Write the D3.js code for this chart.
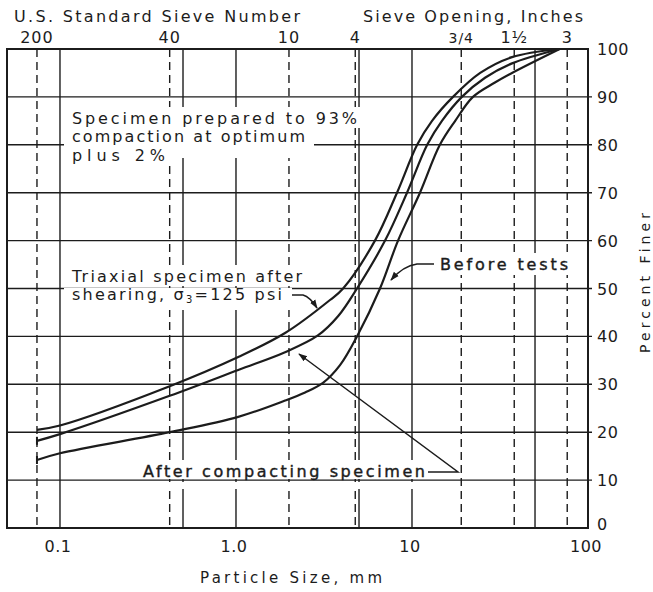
<!DOCTYPE html>
<html><head><meta charset="utf-8">
<script src="https://cdn.jsdelivr.net/npm/d3@7"></script>
<style>
html,body{margin:0;padding:0;background:#fff;}
svg text{font-family:"DejaVu Sans",sans-serif;fill:#1c1c1c;}
</style></head>
<body><svg id="c" width="653" height="592"></svg>
<script>
// ---- data ----
const percentTicks = [0,10,20,30,40,50,60,70,80,90,100];
const sizeTicks = [0.1, 1, 10, 100];
const sizeTickLabels = ["0.1","1.0","10","100"];
const solidGrid = [0.1, 0.5, 1, 5, 10, 50];
const sieveSizes = [0.074, 0.42, 2.0, 4.76, 19.05, 38.1, 76.2];
const sieveLabels = ["200","40","10","4","3/4","1½","3"];

const triaxialSize = [0.074, 0.1, 0.42, 1.03, 1.9, 3.42, 4.06, 6.16, 8.22, 10.7, 13.0, 17.1, 24.4, 37, 69];
const triaxialPct  = [20.5, 21.4, 29.6, 35.7, 40.7, 47.6, 50, 60, 70, 80, 85, 90, 95, 98.3, 100];
const compactSize  = [0.074, 0.1, 0.42, 1.03, 1.9, 2.92, 3.8, 4.87, 7.03, 9.37, 12.2, 14.8, 19.2, 26, 37, 69];
const compactPct   = [18.2, 19.6, 27.6, 33.0, 36.7, 40.2, 44.2, 50, 60, 70, 80, 85, 90, 94, 97, 100];
const beforeSize   = [0.074, 0.1, 0.42, 1.03, 1.9, 2.47, 3.12, 3.9, 4.87, 6.58, 8.33, 11.1, 14.4, 17.6, 22.2, 29.6, 37, 69];
const beforePct    = [14.2, 15.6, 20.0, 23.2, 26.6, 28.3, 30.3, 34, 40, 50, 60, 70, 80, 85, 90, 93, 95, 100];

// ---- layout ----
const svg = d3.select("#c");
const L = 7, R = 588, T = 49, B = 528;
const x = d3.scaleLog().domain([0.05, 100]).range([L, R]);
const y = d3.scaleLinear().domain([0, 100]).range([B, T]);
const ink = "#1c1c1c";

svg.append("rect").attr("width",653).attr("height",592).attr("fill","#fff");

const g = svg.append("g");
g.selectAll("line.h").data(percentTicks.filter(d=>d>0 && d<100)).join("line")
  .attr("x1", L).attr("x2", R+4).attr("y1", d=>y(d)).attr("y2", d=>y(d))
  .attr("stroke", ink).attr("stroke-width", 1.4);
g.selectAll("line.v").data(solidGrid).join("line")
  .attr("x1", d=>x(d)).attr("x2", d=>x(d)).attr("y1", T).attr("y2", B)
  .attr("stroke", ink).attr("stroke-width", 1.4);
g.selectAll("line.s").data(sieveSizes).join("line")
  .attr("x1", d=>x(d)).attr("x2", d=>x(d)).attr("y1", T).attr("y2", B)
  .attr("stroke", ink).attr("stroke-width", 1.4).attr("stroke-dasharray","8,5");

// white masks behind annotations
const masks = [[64,107,310,21],[64,128,250,30],[64,148,108,18],
               [64,265,245,21],[64,288,228,22],
               [434,253,140,22],[136,460,296,19],[136,482,296,7]];
svg.append("g").selectAll("rect").data(masks).join("rect")
  .attr("x",d=>d[0]).attr("y",d=>d[1]).attr("width",d=>d[2]).attr("height",d=>d[3]).attr("fill","#fff");

svg.append("rect").attr("x",L).attr("y",T).attr("width",R-L).attr("height",B-T)
  .attr("fill","none").attr("stroke",ink).attr("stroke-width",2);

// curves
const line = d3.line().x(d=>x(d[0])).y(d=>y(d[1])).curve(d3.curveCatmullRom.alpha(0.5));
const series = [
  d3.zip(triaxialSize, triaxialPct),
  d3.zip(compactSize, compactPct),
  d3.zip(beforeSize, beforePct)
];
svg.append("g").selectAll("path").data(series).join("path")
  .attr("d", line).attr("fill","none").attr("stroke",ink).attr("stroke-width",2.2);
svg.append("g").selectAll("line").data(series.slice(1)).join("line")
  .attr("x1", d=>x(d[0][0])).attr("x2", d=>x(d[0][0]))
  .attr("y1", d=>y(d[0][1])-4).attr("y2", d=>y(d[0][1])+4)
  .attr("stroke",ink).attr("stroke-width",2);

const defs = svg.append("defs");
defs.append("marker").attr("id","arr").attr("viewBox","0 0 10 10").attr("refX",9).attr("refY",5)
  .attr("markerWidth",9).attr("markerHeight",9).attr("orient","auto-start-reverse")
  .attr("markerUnits","userSpaceOnUse")
  .append("path").attr("d","M0,1.5 L10,5 L0,8.5 Z").attr("fill",ink);

const leaders = [
  "M292,295 L303,295 Q310,297 317,308",
  "M434,264 L417,264 Q403,266 391,280",
  "M428,472 L458,472 L299,354"
];
svg.append("g").selectAll("path").data(leaders).join("path")
  .attr("d", d=>d).attr("fill","none").attr("stroke",ink).attr("stroke-width",1.5)
  .attr("marker-end","url(#arr)");

// ---- text ----
function txt(s, xx, yy, size, len, anchor){
  const t = svg.append("text").attr("x",xx).attr("y",yy).attr("font-size",size)
    .attr("text-anchor",anchor||"start").text(s);
  if(len){ t.attr("textLength",len).attr("lengthAdjust","spacing"); }
  return t;
}
txt("U.S. Standard Sieve Number", 14, 22, 16, 286);
txt("Sieve Opening, Inches", 363, 22, 16, 220);
svg.append("g").selectAll("text").data(sieveSizes).join("text")
  .attr("x", d=>x(d)).attr("y", 43).attr("text-anchor","middle")
  .attr("font-size", (d,i)=> (sieveLabels[i]==="3/4") ? 14 : 16)
  .attr("letter-spacing",1)
  .text((d,i)=>sieveLabels[i]);

svg.append("g").selectAll("text").data(percentTicks).join("text")
  .attr("x", 597).attr("y", d=>y(d)+6 - (d===0?4:0)).attr("font-size",16).attr("letter-spacing",0.5)
  .text(d=>d);
svg.append("g").selectAll("text").data(sizeTicks).join("text")
  .attr("x", (d,i)=>x(d)-2).attr("y", 552).attr("text-anchor","middle")
  .attr("font-size",16).attr("letter-spacing",0.5)
  .text((d,i)=>sizeTickLabels[i]);

txt("Particle Size, mm", 200, 583, 15, 182);
svg.append("text").attr("transform","translate(650,283) rotate(-90)")
  .attr("text-anchor","middle").attr("font-size",14).attr("textLength",140)
  .attr("lengthAdjust","spacing").text("Percent Finer");

txt("Specimen prepared to 93%", 72, 124, 16, 285);
txt("compaction at optimum", 72, 142, 16, 233);
txt("plus 2%", 72, 161, 16, 93);
txt("Triaxial specimen after", 72, 282, 16, 230);
const sh = svg.append("text").attr("x",72).attr("y",300).attr("font-size",16).attr("letter-spacing",2.2);
sh.append("tspan").text("shearing, σ");
sh.append("tspan").attr("font-size",10).attr("dy",3).text("3");
sh.append("tspan").attr("dy",-3).text("=125 psi");
txt("Before tests", 440, 270, 16, 128).attr("stroke",ink).attr("stroke-width",0.4);
txt("After compacting specimen", 143, 477, 16, 282).attr("stroke",ink).attr("stroke-width",0.4);
</script></body></html>
